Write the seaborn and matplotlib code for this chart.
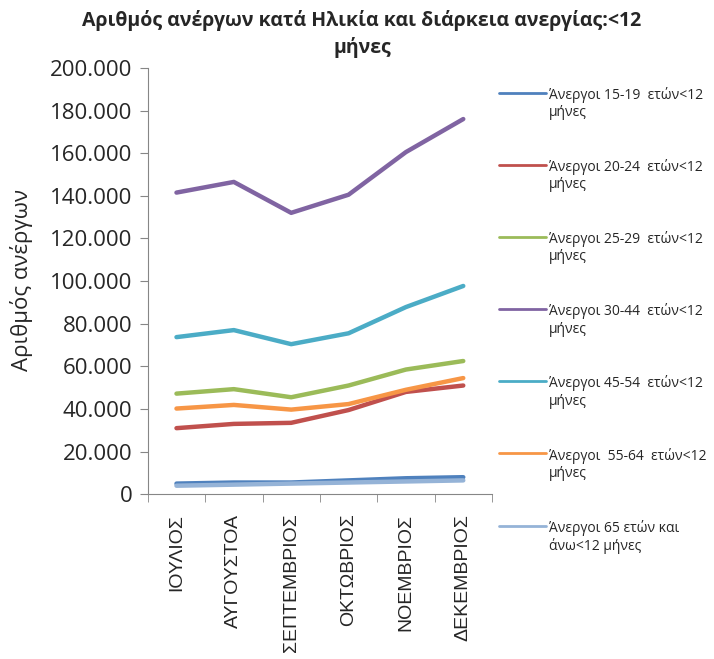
import numpy as np
import pandas as pd
import seaborn as sns
import matplotlib.pyplot as plt
from matplotlib.ticker import FuncFormatter, FixedLocator

# Months (x axis)
months = ["ΙΟΥΛΙΟΣ", "ΑΥΓΟΥΣΤΟΑ", "ΣΕΠΤΕΜΒΡΙΟΣ", "ΟΚΤΩΒΡΙΟΣ", "ΝΟΕΜΒΡΙΟΣ", "ΔΕΚΕΜΒΡΙΟΣ"]

# Series values
age_15_19 = [5000, 5500, 5500, 6500, 7500, 8000]
age_20_24 = [31000, 33000, 33500, 39500, 48000, 51000]
age_25_29 = [47200, 49300, 45500, 51000, 58500, 62500]
age_30_44 = [141500, 146500, 132000, 140500, 160500, 176000]
age_45_54 = [73700, 77000, 70400, 75500, 87800, 97700]
age_55_64 = [40200, 41900, 39700, 42300, 49000, 54500]
age_65_up = [4000, 4500, 5000, 5500, 6000, 6500]

labels = [
    "Άνεργοι 15-19  ετών<12\nμήνες",
    "Άνεργοι 20-24  ετών<12\nμήνες",
    "Άνεργοι 25-29  ετών<12\nμήνες",
    "Άνεργοι 30-44  ετών<12\nμήνες",
    "Άνεργοι 45-54  ετών<12\nμήνες",
    "Άνεργοι  55-64  ετών<12\nμήνες",
    "Άνεργοι 65 ετών και\nάνω<12 μήνες",
]
series = [age_15_19, age_20_24, age_25_29, age_30_44, age_45_54, age_55_64, age_65_up]
colors = ["#4F81BD", "#C0504D", "#9BBB59", "#8064A2", "#4BACC6", "#F79646", "#95B3D7"]

rows = []
for lab, vals in zip(labels, series):
    for i, v in enumerate(vals):
        rows.append({"x": i, "month": months[i], "value": v, "series": lab})
df = pd.DataFrame(rows)

sns.set_style("white")
plt.rcParams["font.family"] = ["Open Sans", "DejaVu Sans"]

fig = plt.figure(figsize=(7.14, 6.59), dpi=100)
ax = fig.add_axes([0.207, 0.250, 0.482, 0.647])

sns.lineplot(data=df, x="x", y="value", hue="series", palette=colors,
             linewidth=3.2, sort=False, ax=ax)

ax.set_xlim(-0.5, 5.5)
ax.set_ylim(0, 200000)
ax.set_yticks(range(0, 200001, 20000))
ax.yaxis.set_major_formatter(FuncFormatter(lambda v, p: f"{int(v):,}".replace(",", ".")))
ax.tick_params(axis="y", labelsize=16, length=6, pad=5, color="#868686", direction="out", left=True)

ax.xaxis.set_major_locator(FixedLocator(range(6)))
ax.set_xticklabels(months, rotation=90, fontsize=14, family=["Liberation Sans", "DejaVu Sans"])
ax.xaxis.set_minor_locator(FixedLocator([i - 0.5 for i in range(7)]))
ax.tick_params(axis="x", which="major", length=0, pad=14)
ax.tick_params(axis="x", which="minor", length=6, color="#868686", direction="out", bottom=True)

for s in ["top", "right"]:
    ax.spines[s].set_visible(False)
for s in ["left", "bottom"]:
    ax.spines[s].set_color("#868686")

ax.set_xlabel("")
ax.set_ylabel("Αριθμός ανέργων", fontsize=16)
ax.yaxis.set_label_coords(-0.334, 0.502)

fig.text(0.507, 0.985, "Αριθμός ανέργων κατά Ηλικία και διάρκεια ανεργίας:<12\nμήνες",
         ha="center", va="top", fontsize=14, fontweight="bold", linespacing=1.4)

leg = ax.legend(loc="upper left", bbox_to_anchor=(1.003, 0.968), frameon=False, fontsize=10,
                handlelength=3.4, handletextpad=0.25, labelspacing=2.8, borderaxespad=0)
# put the handle on the first text line, as in the original
for ln in leg.get_lines():
    ln.set_linewidth(2)
    ln.set_ydata(np.asarray(ln.get_ydata(), dtype=float) + 8.5)

fig.savefig("out.png", dpi=100)
